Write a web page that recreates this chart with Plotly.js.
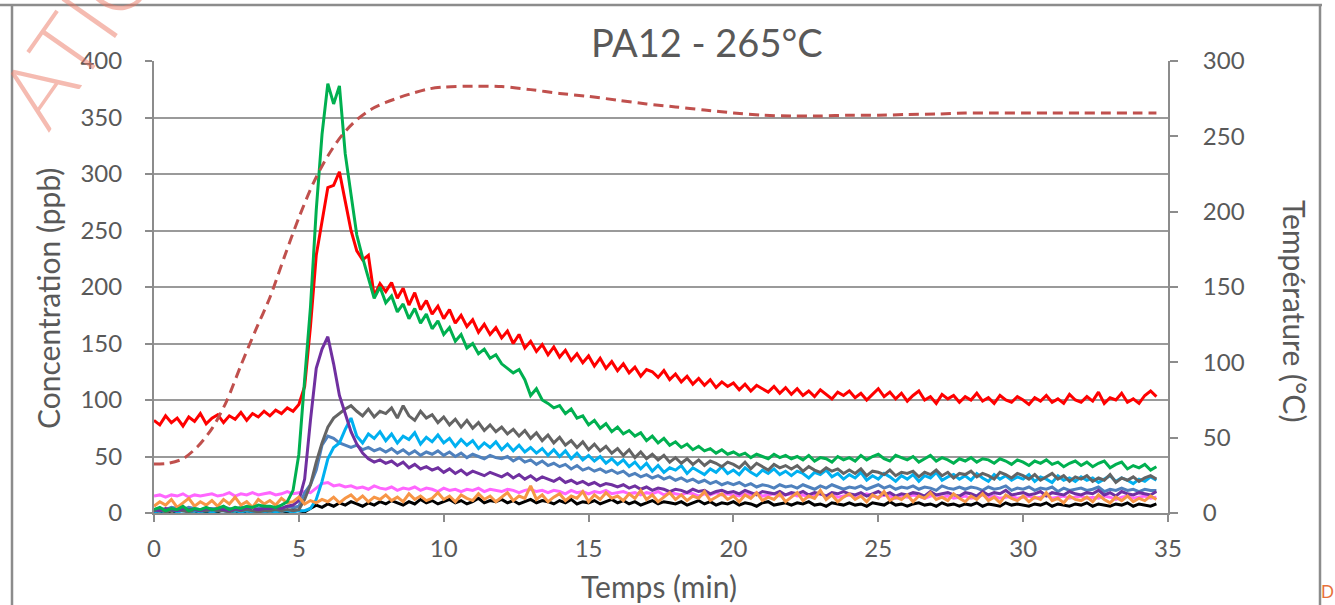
<!DOCTYPE html>
<html><head><meta charset="utf-8">
<script src="https://cdn.plot.ly/plotly-3.0.1.min.js"></script>
<style>html,body{margin:0;padding:0;background:#fff;overflow:hidden}#chart{width:1335px;height:605px}</style>
</head><body><div id="chart"></div>
<script>
const chartTitle = 'PA12 - 265°C';
const xTitle = 'Temps (min)';
const yTitle = 'Concentration (ppb)';
const y2Title = 'Température (°C)';
const xTicks = [0, 5, 10, 15, 20, 25, 30, 35];
const yTicks = [0, 50, 100, 150, 200, 250, 300, 350, 400];
const y2Ticks = [0, 50, 100, 150, 200, 250, 300];

// sampling of the concentration records (minutes)
const t0 = 0, dt = 0.2;

const red = [
82,78,86,80,84,77,85,81,88,79,
84,87,80,86,83,89,82,88,85,90,
86,91,88,93,90,96,112,165,228,258,
288,290,302,276,250,232,224,228,192,203,
196,204,190,199,184,195,180,188,176,183,
172,180,168,175,165,171,160,167,158,164,
155,161,150,158,146,152,143,149,140,147,
138,144,135,141,133,139,130,137,128,134,
126,132,124,129,121,127,125,120,126,118,
123,116,121,114,119,113,118,111,116,112,
115,109,114,108,113,110,107,112,106,111,
105,110,104,108,103,109,105,101,107,104,
108,102,106,100,105,110,103,107,101,106,
99,104,108,100,103,97,105,101,104,98,
103,100,106,99,102,97,104,100,98,103,
100,96,102,99,104,98,101,97,105,100,
98,103,99,107,97,102,100,106,98,101,
97,104,108,103];

const green = [
3,5,2,4,3,6,2,4,3,5,
3,4,6,3,5,4,6,5,7,6,
6,5,7,10,20,52,118,182,268,335,
380,362,378,318,282,246,226,208,190,200,
186,192,178,185,172,181,168,176,163,170,
158,164,152,158,146,150,141,145,137,140,
132,128,124,127,118,104,110,100,97,93,
95,88,92,84,86,78,82,75,79,72,
76,70,73,68,71,64,68,62,66,60,
63,58,61,56,59,55,57,53,56,52,
54,51,53,49,52,50,48,52,49,51,
48,50,47,51,46,49,48,45,50,47,
49,46,51,47,50,52,48,46,51,49,
47,50,45,48,51,46,49,47,44,48,
46,49,45,48,47,44,48,46,43,47,
45,42,46,44,47,43,45,41,44,46,
42,45,41,44,46,40,43,45,39,42,
40,43,38,41];

const purple = [
3,2,4,3,2,4,3,3,2,4,
3,4,3,2,4,3,5,4,3,4,
4,5,4,6,7,11,30,82,128,145,
156,132,104,88,72,61,53,48,45,47,
44,46,42,45,40,43,39,41,38,40,
36,39,35,38,34,37,35,33,36,34,
32,35,31,34,30,33,29,32,30,28,
31,27,29,26,28,25,27,24,26,25,
23,25,22,24,21,23,20,22,21,19,
21,20,18,21,19,20,17,19,20,18,
19,17,20,18,16,19,18,17,19,16,
18,17,19,16,18,17,15,18,17,19,
17,16,18,15,17,19,16,18,15,17,
16,18,17,15,19,16,17,18,16,15,
18,17,15,19,16,18,17,20,16,17,
18,16,17,19,15,18,17,16,19,17,
16,18,17,20,16,18,15,19,17,16,
18,17,16,19];

const darkGray = [
2,3,1,2,3,2,1,3,2,2,
3,2,2,1,3,2,3,2,1,2,
2,3,2,3,2,3,12,25,45,62,
76,84,88,92,95,90,86,92,85,90,
88,93,84,95,86,82,90,84,87,80,
85,78,83,76,82,75,80,73,78,72,
76,70,74,68,73,66,71,64,69,62,
67,60,64,58,63,56,61,55,59,53,
57,51,56,49,54,48,52,47,51,45,
49,44,48,43,47,42,46,44,41,45,
43,40,45,39,44,41,38,43,40,42,
39,42,37,41,38,36,40,37,39,35,
38,35,39,33,37,36,34,38,33,36,
35,37,32,36,34,38,33,36,31,35,
34,37,32,35,33,30,36,34,31,35,
33,30,34,29,32,35,30,33,28,32,
30,33,28,31,29,34,27,31,29,32,
28,31,33,30];

const lightBlue = [
1,2,1,3,1,2,1,2,1,2,
1,2,2,1,2,1,2,1,2,1,
2,1,2,2,1,2,2,4,12,28,
48,58,62,74,84,68,62,70,66,72,
64,70,62,68,65,71,61,67,63,69,
62,66,59,65,60,64,57,62,58,63,
56,61,55,60,54,58,53,57,51,56,
50,55,48,53,47,51,46,50,44,48,
43,47,41,45,39,44,37,42,36,40,
38,42,35,40,37,34,39,36,41,35,
38,34,40,36,33,38,35,39,34,37,
33,37,35,31,36,34,38,32,35,30,
34,31,36,29,33,30,35,32,28,33,
30,34,28,33,31,36,29,32,34,30,
33,29,35,31,28,34,30,33,29,32,
30,34,28,32,30,27,33,29,31,28,
32,29,31,27,30,33,28,31,29,26,
30,28,32,29];

const steelBlue = [
3,4,3,5,4,3,5,4,3,4,
4,3,5,4,3,5,4,3,4,5,
4,5,4,6,5,6,18,25,38,60,
68,66,62,60,58,60,56,58,55,57,
54,57,53,56,52,55,51,54,52,55,
51,54,50,53,49,52,50,48,51,49,
48,50,46,49,45,47,43,46,42,44,
41,43,39,42,38,40,37,39,36,38,
35,37,33,35,32,34,31,33,30,32,
29,31,28,30,27,29,26,28,25,27,
25,27,24,26,23,25,24,22,25,23,
24,22,25,23,21,24,22,25,23,21,
23,22,24,21,23,25,22,24,21,23,
22,24,21,23,22,20,24,22,21,23,
21,23,22,20,23,21,22,24,20,22,
21,23,20,22,21,23,19,22,20,21,
22,20,21,23,19,21,20,22,20,21,
19,21,20,20];

const magenta = [
15,16,14,16,15,17,14,16,15,16,
17,15,16,18,15,17,16,18,16,17,
18,16,17,19,17,18,19,18,22,26,
27,24,25,23,24,22,23,21,24,22,
21,23,20,22,21,23,20,22,21,19,
22,20,21,19,21,20,22,19,21,20,
19,21,20,18,20,21,19,20,18,20,
19,17,20,18,19,17,19,18,20,17,
18,19,17,18,16,18,17,19,16,18,
17,16,18,17,15,17,16,18,16,17,
16,15,17,16,18,15,16,17,15,16,
17,15,16,14,16,17,15,16,14,15,
16,14,15,17,15,14,16,15,13,15,
14,16,15,13,15,16,14,15,13,14,
15,13,14,16,14,15,13,14,15,13,
14,15,13,14,16,13,14,15,13,14,
15,13,14,13,15,14,12,14,15,13,
14,15,13,14];

const orange = [
6,10,7,12,5,9,13,6,10,7,
11,6,12,8,14,7,10,5,12,8,
11,7,13,9,10,14,8,11,9,12,
10,14,9,13,16,11,15,10,14,12,
16,11,14,10,17,12,15,11,13,18,
12,15,10,16,13,11,17,12,15,10,
14,18,11,15,13,24,12,16,10,14,
17,11,15,13,19,10,16,12,18,13,
15,11,17,13,20,12,16,10,14,18,
12,16,11,15,13,19,11,14,17,12,
15,10,16,13,18,11,14,12,17,10,
14,18,11,15,13,20,12,16,10,14,
17,12,15,10,16,13,19,11,14,12,
16,10,15,13,18,12,14,11,17,13,
10,15,12,17,11,14,9,16,13,11,
15,10,14,12,18,11,13,9,15,12,
11,14,10,16,12,9,14,11,15,10,
13,11,15,12];

const black = [
1,2,0,2,1,3,1,2,0,1,
2,1,3,1,2,0,2,1,3,1,
2,1,2,1,3,2,1,4,7,5,
8,6,9,7,10,8,6,9,7,10,
8,11,9,7,10,8,12,9,11,8,
10,12,9,11,8,10,13,9,11,10,
12,9,11,8,10,12,9,11,10,8,
11,9,12,8,10,9,11,8,10,12,
9,11,8,10,7,9,11,8,10,9,
8,10,7,9,11,8,10,7,9,8,
10,7,9,8,6,9,10,7,8,9,
7,9,8,10,7,8,6,9,8,7,
9,7,8,6,9,8,7,10,7,8,
6,8,9,7,8,6,9,7,8,6,
8,7,9,6,8,7,6,9,7,8,
7,6,8,7,9,6,8,7,6,8,
7,9,6,8,7,6,8,7,9,6,
8,7,6,8];

// furnace temperature (secondary axis, °C)
const tempTime = [0,0.5,1,1.5,2,2.5,3,3.5,4,4.5,5,5.5,6,6.5,7,7.5,8,8.5,9,9.5,10,11,12,13,14,15,16,17,18,19,20,21,22,23,24,25,26,27,28,29,30,31,32,33,34,34.6];
const tempValues = [32.5,33,36,44,56,74,98,121,143,170,196,219,237,251,261,268,272.5,276,279,281.5,282.7,283.3,283,281,278.5,276.5,274,271.5,269.5,267.5,265.5,264,263.5,263.5,264,264,264.5,264.8,265.5,265.5,265.5,265.5,265.5,265.5,265.5,265.5];

const W = 1335, H = 605, L = 154, R = 1168, T = 61, B = 513;
const px = x => (x - L) / (R - L);
const py = y => (B - y) / (B - T);

function conc(y, color) {
  return {type: 'scatter', mode: 'lines', x0: t0, dx: dt, y: y, yaxis: 'y',
    line: {color: color, width: 3}, hoverinfo: 'skip'};
}
const data = [
  conc(black, '#000000'),
  conc(magenta, '#FF66FF'),
  conc(steelBlue, '#4F81BD'),
  conc(lightBlue, '#00B0F0'),
  conc(darkGray, '#646464'),
  conc(purple, '#7030A0'),
  conc(orange, '#F79646'),
  conc(red, '#FF0000'),
  conc(green, '#00B050'),
  {type: 'scatter', mode: 'lines', x: tempTime, y: tempValues, yaxis: 'y2',
   line: {color: '#C0504D', width: 3, dash: '10px,6px', shape: 'spline', smoothing: 0.8}, hoverinfo: 'skip'}
];

const axisCol = '#8c8c8c';
const tickFont = {family: 'Lato, sans-serif', size: 24, color: '#595959'};
const layout = {
  width: W, height: H,
  margin: {l: L, r: W - R, t: T, b: H - B, pad: 0},
  paper_bgcolor: '#ffffff', plot_bgcolor: '#ffffff',
  showlegend: false,
  font: {family: 'Lato, sans-serif', color: '#595959'},
  xaxis: {range: [0, 35], tickvals: xTicks, ticks: 'outside', ticklen: 7, tickwidth: 2, tickcolor: axisCol,
    showline: true, linecolor: axisCol, linewidth: 2, showgrid: false, zeroline: false,
    tickfont: tickFont, ticklabelstandoff: 6},
  yaxis: {range: [0, 400], tickvals: yTicks, ticks: 'outside', ticklen: 7, tickwidth: 2, tickcolor: axisCol,
    showline: true, linecolor: axisCol, linewidth: 2, showgrid: true, gridcolor: '#9a9a9a', gridwidth: 2,
    zeroline: false, tickfont: tickFont, ticklabelstandoff: 18},
  yaxis2: {range: [0, 300], tickvals: y2Ticks, overlaying: 'y', side: 'right', ticks: 'outside', ticklen: 8,
    tickwidth: 2, tickcolor: axisCol, showline: true, linecolor: axisCol, linewidth: 2, showgrid: false,
    zeroline: false, tickfont: tickFont, ticklabelstandoff: 20},
  annotations: [
    {text: chartTitle, xref: 'paper', yref: 'paper', x: px(707), y: py(42), xanchor: 'center', yanchor: 'middle',
     showarrow: false, font: {family: 'Lato, sans-serif', size: 38, color: '#595959'}},
    {text: xTitle, xref: 'paper', yref: 'paper', x: px(659), y: py(586), xanchor: 'center', yanchor: 'middle',
     showarrow: false, font: {family: 'Lato, sans-serif', size: 30, color: '#595959'}},
    {text: yTitle, xref: 'paper', yref: 'paper', x: px(48), y: py(299), xanchor: 'center', yanchor: 'middle',
     textangle: -90, showarrow: false, font: {family: 'Lato, sans-serif', size: 30, color: '#595959'}},
    {text: y2Title, xref: 'paper', yref: 'paper', x: px(1295), y: py(311), xanchor: 'center', yanchor: 'middle',
     textangle: 90, showarrow: false, font: {family: 'Lato, sans-serif', size: 30, color: '#595959'}},
    {text: 'ATIO', xref: 'paper', yref: 'paper', x: px(78), y: py(30), xanchor: 'center', yanchor: 'middle',
     textangle: -55, showarrow: false, font: {family: 'Lato, sans-serif', size: 92, weight: 300, color: 'rgba(236,120,100,0.5)'}},
    {text: 'D', xref: 'paper', yref: 'paper', x: px(1327), y: py(591), xanchor: 'center', yanchor: 'middle',
     showarrow: false, font: {family: 'Lato, sans-serif', size: 17, color: '#E8703A'}}
  ],
  shapes: [
    {type: 'line', xref: 'paper', yref: 'paper', x0: px(0), x1: px(1322), y0: py(5), y1: py(5), line: {color: '#8c8c8c', width: 2.5}},
    {type: 'line', xref: 'paper', yref: 'paper', x0: px(12), x1: px(12), y0: py(5), y1: py(610), line: {color: '#8c8c8c', width: 2.5}},
    {type: 'line', xref: 'paper', yref: 'paper', x0: px(1320), x1: px(1320), y0: py(5), y1: py(610), line: {color: '#8c8c8c', width: 2.5}}
  ]
};
Plotly.newPlot('chart', data, layout, {displayModeBar: false, staticPlot: true});
</script>
</body></html>
